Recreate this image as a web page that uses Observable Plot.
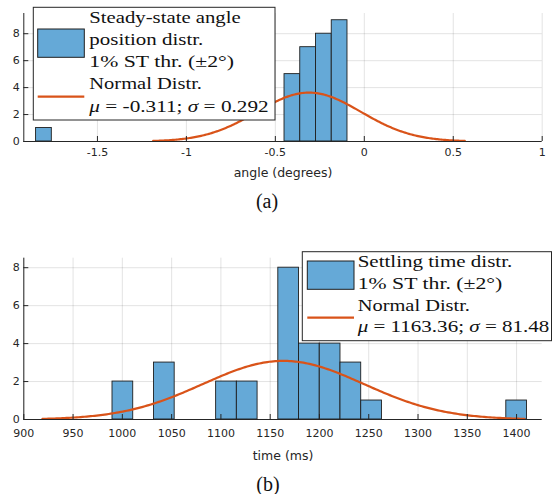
<!DOCTYPE html>
<html><head><meta charset="utf-8">
<script src="https://cdn.jsdelivr.net/npm/d3@7"></script>
<script src="https://cdn.jsdelivr.net/npm/@observablehq/plot@0.6"></script>
<style>
body{margin:0;background:#fff}
#wrap{position:relative;width:552px;height:494px;overflow:hidden;background:#fff}
#wrap > svg{position:absolute;left:0}
</style></head><body><div id="wrap"></div>
<script>
// ---- Panel (a): steady-state angle histogram ----
const angleBinLeft = [-1.845, -0.4485, -0.36, -0.2715, -0.183];
const angleCounts = [1, 5, 7, 8, 9];
const angleBinWidth = 0.0885;
const angleMu = -0.311;
const angleSigma = 0.292;
const angleTicksX = [-1.5, -1, -0.5, 0, 0.5, 1];
const angleTicksY = [0, 2, 4, 6, 8];
const angleLegend = ["Steady-state angle", "position distr.", "1% ST thr. (±2°)", "Normal Distr.", "μ = -0.311; σ = 0.292"];

// ---- Panel (b): settling time histogram ----
const timeBinLeft = [990, 1032.06, 1095.15, 1116.18, 1158.24, 1179.27, 1200.3, 1221.33, 1242.36, 1389.57];
const timeCounts = [2, 3, 2, 2, 8, 4, 4, 3, 1, 1];
const timeBinWidth = 21.03;
const timeMu = 1163.36;
const timeSigma = 81.48;
const timeTicksX = [900, 950, 1000, 1050, 1100, 1150, 1200, 1250, 1300, 1350, 1400];
const timeTicksY = [0, 2, 4, 6, 8];
const timeLegend = ["Settling time distr.", "1% ST thr. (±2°)", "Normal Distr.", "μ = 1163.36; σ = 81.48"];

const BAR = "#65a9d7", EDGE = "#1e1e1e", CURVE = "#d95319", AX = "#262626";

function fittedNormal(mu, sigma, n, bw) {
  // histfit-style curve over mu ± 3 sigma, scaled to counts
  const k = n * bw / (sigma * Math.sqrt(2 * Math.PI));
  return d3.range(0, 241).map(i => {
    const x = mu - 3 * sigma + i * 6 * sigma / 240;
    return {x, y: k * Math.exp(-0.5 * ((x - mu) / sigma) ** 2)};
  });
}

function panel(o) {
  const bins = o.left.map((l, i) => ({x1: l, x2: l + o.bw, count: o.counts[i]}));
  const curve = fittedNormal(o.mu, o.sigma, d3.sum(o.counts), o.bw);
  const innerH = o.height - o.marginTop - o.marginBottom;
  const innerW = 552 - o.marginLeft - o.marginRight;
  const svg = Plot.plot({
    width: 552, height: o.height,
    marginTop: o.marginTop, marginBottom: o.marginBottom,
    marginLeft: o.marginLeft, marginRight: o.marginRight,
    style: {fontFamily: "DejaVu Sans", fontSize: "11px", color: AX, background: "transparent"},
    x: {domain: o.xDomain},
    y: {domain: o.yDomain},
    marks: [
      Plot.gridX(o.ticksX, {stroke: AX, strokeOpacity: 0.13}),
      Plot.gridY(o.ticksY, {stroke: AX, strokeOpacity: 0.13}),
      Plot.rectY(bins, {x1: "x1", x2: "x2", y1: 0, y2: "count", fill: BAR, stroke: EDGE, strokeWidth: 0.9}),
      Plot.line(curve, {x: "x", y: "y", stroke: CURVE, strokeWidth: 2.2}),
      Plot.tickX(o.ticksX, {x: d => d, stroke: AX, insetTop: innerH - 5}),
      Plot.tickY(o.ticksY, {y: d => d, stroke: AX, insetRight: innerW - 5}),
      Plot.ruleY([o.yDomain[0]], {stroke: AX}),
      Plot.ruleX([o.xDomain[0]], {stroke: AX}),
      Plot.axisX(o.ticksX, {tickSize: 0, tickPadding: o.tickPad, tickFormat: d => String(d),
        label: o.label, labelAnchor: "center", labelOffset: o.labelOffset, labelArrow: false, fontSize: 11}),
      Plot.axisY(o.ticksY, {tickSize: 0, tickPadding: 4, tickFormat: d => String(d), label: null})
    ]
  });
  svg.style.top = o.top + "px";
  d3.select(svg).selectAll("[aria-label='x-axis label'] text").style("font-size", "12.5px");
  return svg;
}

const wrap = document.getElementById("wrap");
wrap.appendChild(panel({
  top: 0, height: 185, marginTop: 13, marginBottom: 44, marginLeft: 23.3, marginRight: 10.3,
  left: angleBinLeft, counts: angleCounts, bw: angleBinWidth, mu: angleMu, sigma: angleSigma,
  xDomain: [-1.914, 1], yDomain: [0, 9.5], ticksX: angleTicksX, ticksY: angleTicksY,
  label: "angle (degrees)", tickPad: 7, labelOffset: 35
}));
wrap.appendChild(panel({
  top: 240, height: 230, marginTop: 17.7, marginBottom: 51, marginLeft: 23.3, marginRight: 10.3,
  left: timeBinLeft, counts: timeCounts, bw: timeBinWidth, mu: timeMu, sigma: timeSigma,
  xDomain: [900, 1426], yDomain: [0, 8.5], ticksX: timeTicksX, ticksY: timeTicksY,
  label: "time (ms)", tickPad: 10, labelOffset: 40
}));

// ---- overlay: legends and captions ----
const ov = d3.select(wrap).append("svg").attr("width", 552).attr("height", 494).style("top", "0px");

function addText(g, x, y, str, len, size) {
  const t = g.append("text").attr("x", x).attr("y", y)
    .attr("font-family", "Liberation Serif").attr("font-size", size).attr("fill", "#111");
  if (len) t.attr("textLength", len).attr("lengthAdjust", "spacingAndGlyphs");
  else t.attr("text-anchor", "middle");
  str.split(/([μσ])/).forEach(s => {
    if (!s) return;
    const ts = t.append("tspan").text(s);
    if (s === "μ" || s === "σ") ts.attr("font-style", "italic");
  });
}

function legend(L, lines) {
  const g = ov.append("g");
  g.append("rect").attr("x", L.x).attr("y", L.y).attr("width", L.w).attr("height", L.h)
    .attr("fill", "#fff").attr("stroke", AX).attr("stroke-width", 1);
  g.append("rect").attr("x", L.sx).attr("y", L.sy).attr("width", L.sw).attr("height", L.sh)
    .attr("fill", BAR).attr("stroke", EDGE).attr("stroke-width", 1);
  g.append("line").attr("x1", L.sx).attr("x2", L.sx + L.sw).attr("y1", L.ly).attr("y2", L.ly)
    .attr("stroke", CURVE).attr("stroke-width", 2.2);
  lines.forEach((s, i) => addText(g, L.tx, L.base[i], s, L.widths[i], 17.5));
}

legend({x: 33.3, y: 7.3, w: 241.7, h: 112.7, sx: 37.7, sy: 29, sw: 46.6, sh: 28.3, ly: 96.7, tx: 89.3,
  base: [22.7, 44.9, 67.1, 89.3, 111.5], widths: [151.4, 114, 144.7, 112.7, 179.4]}, angleLegend);
legend({x: 302.3, y: 251.7, w: 249.2, h: 89, sx: 307.3, sy: 261, sw: 46.7, sh: 28.3, ly: 317.7, tx: 357.7,
  base: [266.7, 288.6, 310.5, 332.4], widths: [154.6, 144.6, 112.3, 191.6]}, timeLegend);

addText(ov, 267, 208, "(a)", 0, 20);
addText(ov, 268, 491, "(b)", 0, 20);
</script></body></html>
